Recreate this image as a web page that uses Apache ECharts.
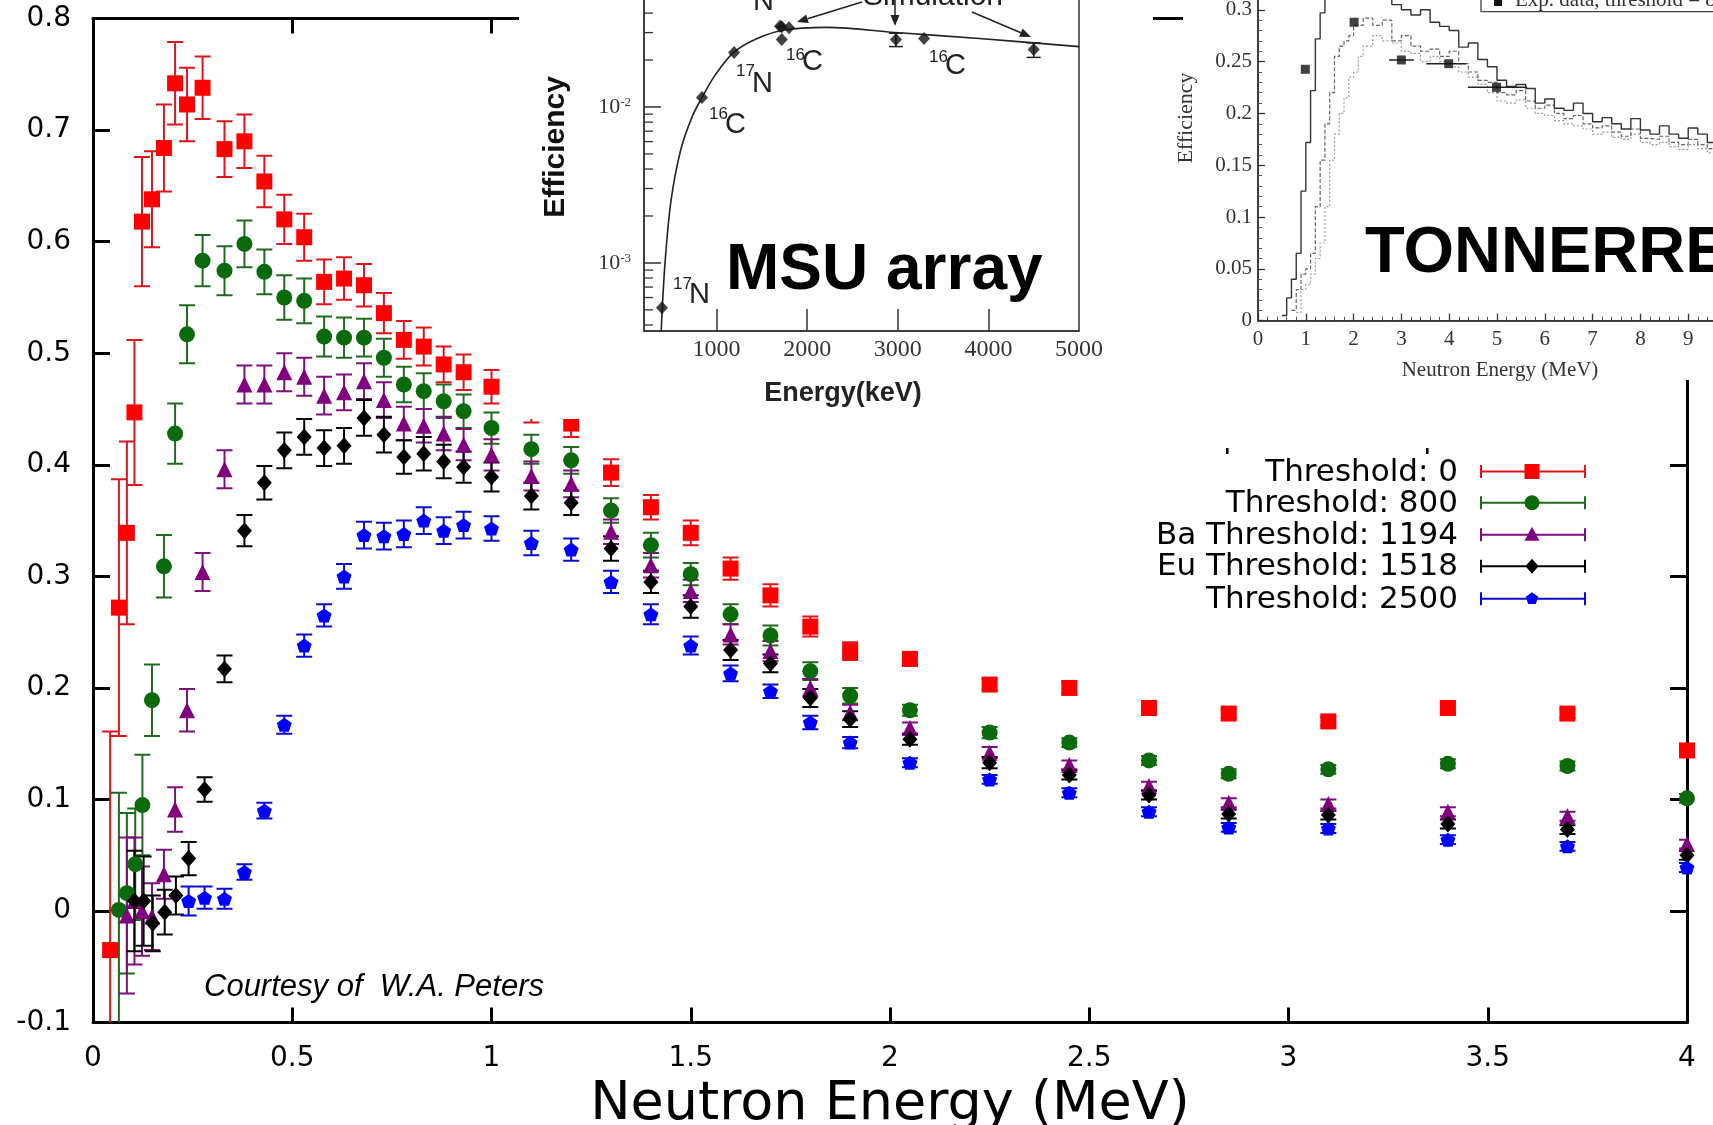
<!DOCTYPE html>
<html><head><meta charset="utf-8">
<script src="https://cdn.jsdelivr.net/npm/echarts@6/dist/echarts.min.js"></script>
<style>html,body{margin:0;padding:0;background:#fff}#c{width:1713px;height:1125px}</style>
</head><body><div id="c"></div>
<script>
// ---------------- main chart data (Neutron Energy MeV, efficiency, error) ----------------
const eRed = [0.043,0.065,0.085,0.104,0.123,0.148,0.178,0.206,0.236,0.275,0.33,0.38,0.43,0.48,0.53,0.58,0.63,0.68,0.73,0.78,0.83,0.88,0.93,1.0,1.1,1.2,1.3,1.4,1.5,1.6,1.7,1.8,1.9,2.05,2.25,2.45,2.65,2.85,3.1,3.4,3.7,4.0];
const effRed = [-0.035,0.272,0.339,0.447,0.618,0.638,0.684,0.742,0.723,0.738,0.683,0.690,0.654,0.620,0.604,0.564,0.567,0.561,0.536,0.512,0.506,0.490,0.483,0.470,0.451,0.437,0.393,0.362,0.339,0.307,0.283,0.255,0.233,0.226,0.203,0.200,0.182,0.177,0.170,0.182,0.177,0.144];
const errRed = [0.196,0.115,0.082,0.065,0.058,0.043,0.039,0.037,0.033,0.028,0.025,0.024,0.023,0.022,0.021,0.020,0.019,0.019,0.018,0.017,0.017,0.016,0.016,0.015,0.013,0.012,0.012,0.011,0.011,0.010,0.010,0.009,0.008,0.006,0.005,0.005,0.004,0.004,0.004,0.004,0.004,0.004];

const eGreen = [0.065,0.085,0.106,0.124,0.148,0.178,0.206,0.236,0.275,0.33,0.38,0.43,0.48,0.53,0.58,0.63,0.68,0.73,0.78,0.83,0.88,0.93,1.0,1.1,1.2,1.3,1.4,1.5,1.6,1.7,1.8,1.9,2.05,2.25,2.45,2.65,2.85,3.1,3.4,3.7,4.0];
const effGreen = [0.001,0.016,0.042,0.095,0.189,0.309,0.428,0.517,0.583,0.574,0.598,0.573,0.550,0.547,0.515,0.514,0.514,0.496,0.472,0.466,0.457,0.448,0.433,0.414,0.404,0.359,0.328,0.302,0.266,0.247,0.215,0.193,0.180,0.160,0.151,0.135,0.123,0.127,0.132,0.130,0.101];
const errGreen = [0.105,0.072,0.050,0.045,0.032,0.028,0.027,0.026,0.023,0.022,0.021,0.020,0.020,0.020,0.018,0.018,0.017,0.017,0.016,0.016,0.015,0.015,0.014,0.013,0.012,0.011,0.011,0.010,0.009,0.009,0.008,0.007,0.005,0.005,0.004,0.004,0.004,0.004,0.004,0.004,0.004];

const ePurple = [0.085,0.104,0.123,0.148,0.178,0.206,0.236,0.275,0.33,0.38,0.43,0.48,0.53,0.58,0.63,0.68,0.73,0.78,0.83,0.88,0.93,1.0,1.1,1.2,1.3,1.4,1.5,1.6,1.7,1.8,1.9,2.05,2.25,2.45,2.65,2.85,3.1,3.4,3.7,4.0];
const effPurple = [-0.004,0.009,0.000,-0.005,0.033,0.091,0.180,0.304,0.396,0.472,0.472,0.483,0.479,0.462,0.465,0.475,0.458,0.437,0.435,0.428,0.418,0.409,0.390,0.383,0.340,0.310,0.287,0.248,0.233,0.200,0.178,0.164,0.142,0.131,0.112,0.097,0.096,0.089,0.085,0.060];
const errPurple = [0.070,0.057,0.040,0.030,0.022,0.020,0.019,0.017,0.017,0.017,0.017,0.017,0.017,0.017,0.016,0.016,0.016,0.015,0.015,0.015,0.014,0.014,0.013,0.012,0.011,0.011,0.010,0.009,0.009,0.008,0.007,0.005,0.005,0.004,0.004,0.004,0.004,0.004,0.004,0.004];

const eBlack = [0.104,0.127,0.150,0.180,0.208,0.240,0.280,0.33,0.38,0.43,0.48,0.53,0.58,0.63,0.68,0.73,0.78,0.83,0.88,0.93,1.0,1.1,1.2,1.3,1.4,1.5,1.6,1.7,1.8,1.9,2.05,2.25,2.45,2.65,2.85,3.1,3.4,3.7,4.0];
const effBlack = [0.009,0.009,-0.011,-0.001,0.014,0.047,0.109,0.217,0.341,0.384,0.413,0.425,0.415,0.417,0.442,0.427,0.407,0.410,0.403,0.398,0.389,0.372,0.366,0.325,0.295,0.273,0.234,0.222,0.191,0.172,0.154,0.133,0.122,0.104,0.087,0.086,0.078,0.073,0.050];
const errBlack = [0.045,0.040,0.025,0.020,0.017,0.015,0.011,0.012,0.014,0.015,0.016,0.016,0.016,0.016,0.016,0.016,0.015,0.015,0.015,0.014,0.013,0.012,0.011,0.011,0.010,0.010,0.009,0.008,0.008,0.007,0.005,0.005,0.004,0.004,0.004,0.004,0.004,0.004,0.004];

const eBlue = [0.240,0.280,0.33,0.38,0.43,0.48,0.53,0.58,0.63,0.68,0.73,0.78,0.83,0.88,0.93,1.0,1.1,1.2,1.3,1.4,1.5,1.6,1.7,1.8,1.9,2.05,2.25,2.45,2.65,2.85,3.1,3.4,3.7,4.0];
const effBlue = [0.009,0.012,0.011,0.035,0.090,0.167,0.238,0.265,0.300,0.337,0.336,0.338,0.350,0.341,0.346,0.343,0.330,0.324,0.295,0.266,0.238,0.213,0.197,0.169,0.151,0.133,0.118,0.106,0.089,0.075,0.074,0.064,0.058,0.039];
const errBlue = [0.013,0.010,0.009,0.007,0.007,0.008,0.010,0.010,0.011,0.012,0.012,0.012,0.012,0.012,0.012,0.011,0.011,0.010,0.010,0.009,0.008,0.007,0.006,0.006,0.005,0.004,0.004,0.004,0.004,0.004,0.004,0.004,0.004,0.004];

const legendNames = ['Threshold: 0','Threshold: 800','Ba Threshold: 1194','Eu Threshold: 1518','Threshold: 2500'];

// ---------------- MSU inset data ----------------
const msuE = [398,840,1194,1700,1720,1800,1720,2980,3290,4500];
const msuEff = [0.000515,0.0115,0.0224,0.0330,0.0327,0.0322,0.0271,0.0271,0.0275,0.0234];
const msuLo = [null,null,null,null,null,null,null,0.0244,null,0.0208];
const msuHi = [null,null,null,null,null,null,null,0.0297,null,0.0258];
const msuCurveE = [390,432,498,605,733,840,985,1190,1449,1747,2211,3017,3900,5000];
const msuCurveEff = [0.000366,0.001,0.0025,0.0053,0.0087,0.0115,0.016,0.0224,0.0275,0.0312,0.0324,0.0299,0.0275,0.0244];
const msuMinorTicks = [0.0004,0.0005,0.0006,0.0007,0.0008,0.0009,0.002,0.003,0.004,0.005,0.006,0.007,0.008,0.009,0.02,0.03,0.04];
const msuXLabels = [1000,2000,3000,4000,5000];
const msuXTicks = [1000,2000,3000,4000];

// ---------------- TONNERRE inset data ----------------
const tonSolidX = [0.5,0.6,0.7,0.8,0.9,1.0,1.1,1.2,1.3,1.4,1.5,1.6,1.8,2.0,2.2,2.4,2.6,2.8,3.0,3.2,3.4,3.6,3.8,4.0,4.2,4.4,4.6,4.8,5.0,5.2,5.4,5.6,5.8,6.0,6.2,6.4,6.6,6.8,7.0,7.2,7.4,7.6,7.8,8.0,8.2,8.4,8.6,8.8,9.0,9.2,9.4,9.6,9.8];
const tonSolidY = [0.005,0.022,0.040,0.065,0.125,0.172,0.222,0.272,0.297,0.320,0.340,0.350,0.355,0.350,0.345,0.330,0.320,0.305,0.300,0.295,0.300,0.288,0.284,0.280,0.264,0.268,0.252,0.245,0.232,0.226,0.228,0.224,0.210,0.214,0.205,0.203,0.210,0.200,0.192,0.196,0.190,0.185,0.195,0.184,0.180,0.188,0.180,0.176,0.186,0.180,0.172,0.170,0.170];
const tonDashX = [0.7,0.8,0.9,1.0,1.1,1.2,1.3,1.4,1.5,1.6,1.7,1.8,1.9,2.0,2.2,2.4,2.6,2.8,3.0,3.2,3.4,3.6,3.8,4.0,4.2,4.4,4.6,4.8,5.0,5.2,5.4,5.6,5.8,6.0,6.2,6.4,6.6,6.8,7.0,7.2,7.4,7.6,7.8,8.0,8.2,8.4,8.6,8.8,9.0,9.2,9.4,9.6,9.8];
const tonDashY = [0.010,0.030,0.045,0.050,0.065,0.110,0.155,0.190,0.220,0.255,0.265,0.270,0.275,0.285,0.292,0.285,0.290,0.270,0.275,0.265,0.260,0.262,0.255,0.260,0.248,0.240,0.232,0.230,0.220,0.218,0.222,0.212,0.205,0.208,0.200,0.195,0.198,0.190,0.186,0.188,0.182,0.178,0.185,0.176,0.175,0.178,0.172,0.170,0.175,0.170,0.166,0.165,0.165];
const tonDotX = [0.8,0.9,1.0,1.1,1.2,1.3,1.4,1.5,1.6,1.7,1.8,1.9,2.0,2.1,2.2,2.4,2.6,2.8,3.0,3.2,3.4,3.6,3.8,4.0,4.2,4.4,4.6,4.8,5.0,5.2,5.4,5.6,5.8,6.0,6.2,6.4,6.6,6.8,7.0,7.2,7.4,7.6,7.8,8.0,8.2,8.4,8.6,8.8,9.0,9.2,9.4,9.6,9.8];
const tonDotY = [0.008,0.030,0.035,0.045,0.060,0.075,0.110,0.155,0.180,0.200,0.215,0.235,0.240,0.255,0.265,0.275,0.270,0.268,0.260,0.258,0.250,0.255,0.250,0.245,0.240,0.235,0.228,0.220,0.212,0.210,0.213,0.205,0.200,0.198,0.193,0.190,0.188,0.185,0.180,0.182,0.177,0.175,0.180,0.172,0.170,0.172,0.168,0.165,0.170,0.166,0.162,0.160,0.160];
const tonExpE = [0.99,2.01,3.0,3.99,4.99];
const tonExpEff = [0.2426,0.288,0.2516,0.248,0.2252];
const tonExpLo = [0,0,0.26,0.47,0.60];
const tonExpHi = [0,0,0.26,0.36,0.64];

// ---------------- styles ----------------
const SERIES = [
  {name:legendNames[0], x:eRed, y:effRed, e:errRed, color:'#ff0000', bar:'#e3121b', symbol:'rect', size:16},
  {name:legendNames[1], x:eGreen, y:effGreen, e:errGreen, color:'#0b6a0b', bar:'#1e6b1e', symbol:'circle', size:16},
  {name:legendNames[2], x:ePurple, y:effPurple, e:errPurple, color:'#800080', bar:'#7d0f7d', symbol:'triangle', size:16},
  {name:legendNames[3], x:eBlack, y:effBlack, e:errBlack, color:'#000000', bar:'#000000', symbol:'diamond', size:[15,17]},
  {name:legendNames[4], x:eBlue, y:effBlue, e:errBlue, color:'#0000ff', bar:'#0a0ad0', symbol:'path://M0,-10L9.51,-3.09L5.88,8.09L-5.88,8.09L-9.51,-3.09Z', size:[15,14]}
];

function vErrRender(color, capW, lw) {
  return function (params, api) {
    const x = api.value(0), y = api.value(1), e = api.value(2);
    const lo = api.coord([x, y - e]), hi = api.coord([x, y + e]);
    const h = capW / 2, st = {stroke: color, lineWidth: lw};
    return {type:'group', children:[
      {type:'line', shape:{x1:lo[0], y1:lo[1], x2:hi[0], y2:hi[1]}, style:st},
      {type:'line', shape:{x1:lo[0]-h, y1:lo[1], x2:lo[0]+h, y2:lo[1]}, style:st},
      {type:'line', shape:{x1:hi[0]-h, y1:hi[1], x2:hi[0]+h, y2:hi[1]}, style:st}
    ]};
  };
}

const series = [];
SERIES.forEach(function (s) {
  series.push({
    type:'custom', name:s.name+' err', xAxisIndex:0, yAxisIndex:0, clip:true, z:2,
    renderItem: vErrRender(s.bar, 16, 2),
    encode:{x:0, y:1},
    data: s.x.map(function (v, i) { return [v, s.y[i], s.e[i]]; }),
    silent:true
  });
});
SERIES.forEach(function (s) {
  series.push({
    type:'scatter', name:s.name, xAxisIndex:0, yAxisIndex:0, clip:true, z:3,
    symbol:s.symbol, symbolSize:s.size,
    itemStyle:{color:s.color, opacity:1},
    data: s.x.map(function (v, i) { return [v, s.y[i]]; }),
    silent:true
  });
});

// MSU inset series
series.push({
  type:'line', xAxisIndex:2, yAxisIndex:2, zlevel:2, z:5, smooth:0.35, showSymbol:false, clip:true,
  lineStyle:{color:'#222', width:1.6},
  data: msuCurveE.map(function (v, i) { return [v, msuCurveEff[i]]; }), silent:true
});
series.push({
  type:'custom', xAxisIndex:2, yAxisIndex:2, zlevel:2, z:6, clip:true,
  renderItem: function (params, api) {
    const x = api.value(0), lo = api.value(1), hi = api.value(2);
    const a = api.coord([x, lo]), b = api.coord([x, hi]), st = {stroke:'#222', lineWidth:1.5};
    return {type:'group', children:[
      {type:'line', shape:{x1:a[0], y1:a[1], x2:b[0], y2:b[1]}, style:st},
      {type:'line', shape:{x1:a[0]-7, y1:a[1], x2:a[0]+7, y2:a[1]}, style:st},
      {type:'line', shape:{x1:b[0]-7, y1:b[1], x2:b[0]+7, y2:b[1]}, style:st}
    ]};
  },
  encode:{x:0, y:1},
  data: msuE.map(function (v, i) { return [v, msuLo[i], msuHi[i]]; }).filter(function (d) { return d[1] !== null; }),
  silent:true
});
series.push({
  type:'scatter', xAxisIndex:2, yAxisIndex:2, zlevel:2, z:7, symbol:'diamond', symbolSize:[12,13],
  itemStyle:{color:'#111'}, clip:false,
  data: msuE.map(function (v, i) { return [v, msuEff[i]]; }), silent:true
});
series.push({
  type:'custom', xAxisIndex:2, yAxisIndex:2, zlevel:2, z:7, clip:false,
  renderItem: function (params, api) {
    const p = api.coord([200, api.value(1)]);
    return {type:'line', shape:{x1:p[0], y1:p[1], x2:p[0]+9, y2:p[1]}, style:{stroke:'#333', lineWidth:1.3}};
  },
  encode:{x:0, y:1},
  data: msuMinorTicks.map(function (v) { return [200, v]; }), silent:true
});

// TONNERRE inset series
function stepData(xs, ys) { return xs.map(function (v, i) { return [v, ys[i]]; }); }
series.push({type:'line', xAxisIndex:3, yAxisIndex:3, zlevel:2, z:5, step:'end', showSymbol:false, clip:true,
  lineStyle:{color:'#999', width:1.2, type:[2,2]}, data:stepData(tonDotX, tonDotY), silent:true});
series.push({type:'line', xAxisIndex:3, yAxisIndex:3, zlevel:2, z:5, step:'end', showSymbol:false, clip:true,
  lineStyle:{color:'#666', width:1.2, type:[4,2]}, data:stepData(tonDashX, tonDashY), silent:true});
series.push({type:'line', xAxisIndex:3, yAxisIndex:3, zlevel:2, z:6, step:'end', showSymbol:false, clip:true,
  lineStyle:{color:'#333', width:1.4}, data:stepData(tonSolidX, tonSolidY), silent:true});
series.push({
  type:'custom', xAxisIndex:3, yAxisIndex:3, zlevel:2, z:7, clip:true,
  renderItem: function (params, api) {
    const x = api.value(0), y = api.value(1), lo = api.value(2), hi = api.value(3);
    const a = api.coord([x - lo, y]), b = api.coord([x + hi, y]);
    return {type:'line', shape:{x1:a[0], y1:a[1], x2:b[0], y2:b[1]}, style:{stroke:'#222', lineWidth:1.5}};
  },
  encode:{x:0, y:1},
  data: tonExpE.map(function (v, i) { return [v, tonExpEff[i], tonExpLo[i], tonExpHi[i]]; }), silent:true
});
series.push({type:'scatter', xAxisIndex:3, yAxisIndex:3, zlevel:2, z:8, symbol:'rect', symbolSize:9,
  itemStyle:{color:'#111'}, data: tonExpE.map(function (v, i) { return [v, tonExpEff[i]]; }), silent:true});

// ---------------- graphics (inset backgrounds, labels, legend) ----------------
const g = [];
g.push({type:'rect', zlevel:1, z:1, shape:{x:519, y:-5, width:634, height:424}, style:{fill:'#fff'}, silent:true});
g.push({type:'rect', zlevel:1, z:1, shape:{x:1183, y:-5, width:540, height:385}, style:{fill:'#fff'}, silent:true});

// legend of main chart
const legY = [471.5, 502.8, 534.8, 566.3, 598.8];
SERIES.forEach(function (s, i) {
  const y = legY[i];
  g.push({type:'text', zlevel:0, z:100, x:1458, y:y+1, style:{text:s.name, fill:'#000', font:'31px "DejaVu Sans"', textAlign:'right', textVerticalAlign:'middle'}});
  const st = {stroke:s.bar, lineWidth:2};
  g.push({type:'line', zlevel:0, z:100, shape:{x1:1481, y1:y, x2:1585, y2:y}, style:st});
  g.push({type:'line', zlevel:0, z:100, shape:{x1:1481, y1:y-6.5, x2:1481, y2:y+6.5}, style:st});
  g.push({type:'line', zlevel:0, z:100, shape:{x1:1585, y1:y-6.5, x2:1585, y2:y+6.5}, style:st});
});
g.push({type:'rect', zlevel:0, z:101, shape:{x:1524.5, y:legY[0]-7.5, width:15, height:15}, style:{fill:'#ff0000'}});
g.push({type:'circle', zlevel:0, z:101, shape:{cx:1532, cy:legY[1], r:7.5}, style:{fill:'#0b6a0b'}});
g.push({type:'polygon', zlevel:0, z:101, shape:{points:[[1532,legY[2]-8],[1539.5,legY[2]+6],[1524.5,legY[2]+6]]}, style:{fill:'#800080'}});
g.push({type:'polygon', zlevel:0, z:101, shape:{points:[[1532,legY[3]-7.5],[1538.5,legY[3]],[1532,legY[3]+7.5],[1525.5,legY[3]]]}, style:{fill:'#000'}});
g.push({type:'polygon', zlevel:0, z:101, shape:{points:[[1532,legY[4]-6.5],[1538.2,legY[4]-2],[1535.8,legY[4]+5.3],[1528.2,legY[4]+5.3],[1525.8,legY[4]-2]]}, style:{fill:'#0000ff'}});
g.push({type:'rect', zlevel:0, z:100, shape:{x:1226, y:448, width:2.5, height:6}, style:{fill:'#000'}});
g.push({type:'rect', zlevel:0, z:100, shape:{x:1426, y:448, width:2.5, height:6}, style:{fill:'#000'}});
g.push({type:'text', zlevel:0, z:100, x:204, y:987, style:{text:'Courtesy of  W.A. Peters', fill:'#000', font:'italic 31px "Liberation Sans"', textAlign:'left', textVerticalAlign:'middle'}});

// MSU inset labels
g.push({type:'text', zlevel:2, z:20, x:556, y:147, rotation:Math.PI/2, style:{text:'Efficiency', fill:'#111', font:'bold 30px "Liberation Sans"', textAlign:'center', textVerticalAlign:'middle'}});
g.push({type:'text', zlevel:2, z:20, x:843, y:394, style:{text:'Energy(keV)', fill:'#222', font:'bold 27px "Liberation Sans"', textAlign:'center', textVerticalAlign:'middle'}});
g.push({type:'text', zlevel:2, z:20, x:726, y:271, style:{text:'MSU array', fill:'#000', font:'bold 64px "Liberation Sans"', textAlign:'left', textVerticalAlign:'middle'}});
const msuNotes = [
  {sup:'17', el:'N', x:673, y:295, sy:284},
  {sup:'16', el:'C', x:709, y:125, sy:114},
  {sup:'17', el:'N', x:736, y:84, sy:71},
  {sup:'16', el:'C', x:786, y:62, sy:55},
  {sup:'16', el:'C', x:929, y:66, sy:57}
];
msuNotes.forEach(function (n) {
  g.push({type:'text', zlevel:2, z:20, x:n.x, y:n.sy, style:{text:n.sup, fill:'#222', font:'17px "Liberation Sans"', textAlign:'left', textVerticalAlign:'middle'}});
  g.push({type:'text', zlevel:2, z:20, x:n.x+16, y:n.y, style:{text:n.el, fill:'#222', font:'29px "Liberation Sans"', textAlign:'left', textVerticalAlign:'middle'}});
});
g.push({type:'text', zlevel:2, z:20, x:753, y:2, style:{text:'N', fill:'#222', font:'29px "Liberation Sans"', textAlign:'left', textVerticalAlign:'middle'}});
g.push({type:'text', zlevel:2, z:20, x:933, y:-3, style:{text:'Simulation', fill:'#222', font:'30px "Liberation Sans"', textAlign:'center', textVerticalAlign:'middle'}});
function arrow(x1, y1, x2, y2) {
  const ang = Math.atan2(y2 - y1, x2 - x1), L = 11, W = 4.5;
  const bx = x2 - L * Math.cos(ang), by = y2 - L * Math.sin(ang);
  const px = -Math.sin(ang) * W, py = Math.cos(ang) * W;
  g.push({type:'line', zlevel:2, z:20, shape:{x1:x1, y1:y1, x2:bx, y2:by}, style:{stroke:'#222', lineWidth:1.5}});
  g.push({type:'polygon', zlevel:2, z:20, shape:{points:[[x2,y2],[bx+px,by+py],[bx-px,by-py]]}, style:{fill:'#222'}});
}
arrow(862, 2, 797, 22);
arrow(895, -2, 895, 26);
arrow(972, 12, 1031, 37);

// TONNERRE inset labels
g.push({type:'text', zlevel:2, z:20, x:1186, y:118, rotation:Math.PI/2, style:{text:'Efficiency', fill:'#333', font:'22px "Liberation Serif"', textAlign:'center', textVerticalAlign:'middle'}});
g.push({type:'text', zlevel:2, z:20, x:1500, y:370, style:{text:'Neutron Energy (MeV)', fill:'#333', font:'21px "Liberation Serif"', textAlign:'center', textVerticalAlign:'middle'}});
g.push({type:'text', zlevel:2, z:20, x:1365, y:254, style:{text:'TONNERRE', fill:'#000', font:'bold 65px "Liberation Sans"', textAlign:'left', textVerticalAlign:'middle'}});
g.push({type:'rect', zlevel:2, z:20, shape:{x:1481, y:-30, width:260, height:41.7}, style:{fill:'#fff', stroke:'#444', lineWidth:1.3}});
g.push({type:'rect', zlevel:2, z:21, shape:{x:1494, y:-2, width:8, height:8}, style:{fill:'#111'}});
g.push({type:'text', zlevel:2, z:21, x:1515, y:0, style:{text:'Exp. data, threshold = 80 keV', fill:'#333', font:'21px "Liberation Serif"', textAlign:'left', textVerticalAlign:'middle'}});

// ---------------- axes ----------------
const mainLabel = {color:'#000', fontFamily:'DejaVu Sans', fontSize:28};
const option = {
  animation:false,
  backgroundColor:'#fff',
  grid:[
    {left:93, top:18.6, width:1594, height:1004, show:false, containLabel:false, outerBoundsMode:'none'},
    {left:644, top:-2, width:435, height:333, show:true, borderColor:'#333', borderWidth:1.5, backgroundColor:'transparent', zlevel:2, z:3, containLabel:false, outerBoundsMode:'none'},
    {left:1258, top:-42, width:478, height:362.7, show:true, borderColor:'#333', borderWidth:1.5, backgroundColor:'transparent', zlevel:2, z:3, containLabel:false, outerBoundsMode:'none'}
  ],
  xAxis:[
    {type:'value', gridIndex:0, position:'bottom', min:0, max:4, interval:0.5,
      axisLine:{show:true, onZero:false, lineStyle:{color:'#000', width:3}},
      axisTick:{show:true, inside:true, length:15, lineStyle:{color:'#000', width:3}},
      axisLabel:Object.assign({margin:22, formatter:function (v) { return String(Math.round(v*10)/10); }}, mainLabel),
      splitLine:{show:false},
      name:'Neutron Energy (MeV)', nameLocation:'middle', nameGap:46,
      nameTextStyle:{fontFamily:'DejaVu Sans', fontSize:54, color:'#000'}},
    {type:'value', gridIndex:0, position:'top', min:0, max:4, interval:0.5,
      axisLine:{show:true, onZero:false, lineStyle:{color:'#000', width:3}},
      axisTick:{show:true, inside:true, length:15, lineStyle:{color:'#000', width:3}},
      axisLabel:{show:false}, splitLine:{show:false}},
    {type:'value', gridIndex:1, min:200, max:5000, zlevel:2, z:4,
      axisLine:{show:true, onZero:false, lineStyle:{color:'#333', width:1.5}},
      axisTick:{show:true, inside:true, length:22, customValues:msuXTicks, lineStyle:{color:'#333', width:1.5}},
      axisLabel:{show:true, customValues:msuXLabels, margin:7, color:'#333', fontFamily:'Liberation Serif', fontSize:24, formatter:function (v) { return String(v); }},
      splitLine:{show:false}},
    {type:'value', gridIndex:2, min:0, max:10, interval:1, zlevel:2, z:4,
      axisLine:{show:true, onZero:false, lineStyle:{color:'#333', width:1.5}},
      axisTick:{show:true, inside:true, length:7, lineStyle:{color:'#333', width:1.3}},
      minorTick:{show:true, splitNumber:5, length:4, lineStyle:{color:'#555', width:1}},
      axisLabel:{margin:8, color:'#333', fontFamily:'Liberation Serif', fontSize:21, showMaxLabel:false},
      splitLine:{show:false}}
  ],
  yAxis:[
    {type:'value', gridIndex:0, position:'left', min:-0.1, max:0.8, interval:0.1,
      axisLine:{show:true, onZero:false, lineStyle:{color:'#000', width:3}},
      axisTick:{show:true, inside:true, length:17, lineStyle:{color:'#000', width:3}},
      axisLabel:Object.assign({margin:22, formatter:function (v) { const r = Math.round(v*10)/10; return r === 0 ? '0' : String(r); }}, mainLabel),
      splitLine:{show:false}},
    {type:'value', gridIndex:0, position:'right', min:-0.1, max:0.8, interval:0.1,
      axisLine:{show:true, onZero:false, lineStyle:{color:'#000', width:3}},
      axisTick:{show:true, inside:true, length:17, lineStyle:{color:'#000', width:3}},
      axisLabel:{show:false}, splitLine:{show:false}},
    {type:'log', logBase:10, gridIndex:1, min:0.000366, max:0.05, zlevel:2, z:4,
      axisLine:{show:true, onZero:false, lineStyle:{color:'#333', width:1.5}},
      axisTick:{show:true, inside:true, length:17, lineStyle:{color:'#333', width:1.5}},
      axisLabel:{margin:13, showMinLabel:false, showMaxLabel:false,
        formatter:function (v) { const e = Math.log10(v); if (Math.abs(e - Math.round(e)) > 1e-6) return ''; return '{b|10}{s|' + Math.round(e) + '}'; },
        rich:{b:{fontFamily:'Liberation Serif', fontSize:22, color:'#333'}, s:{fontFamily:'Liberation Serif', fontSize:13, color:'#333', verticalAlign:'top'}}},
      splitLine:{show:false}, minorTick:{show:false}},
    {type:'value', gridIndex:2, min:0, max:0.35, interval:0.05, zlevel:2, z:4,
      axisLine:{show:true, onZero:false, lineStyle:{color:'#333', width:1.5}},
      axisTick:{show:true, inside:true, length:7, lineStyle:{color:'#333', width:1.3}},
      minorTick:{show:true, splitNumber:5, length:4, lineStyle:{color:'#555', width:1}},
      axisLabel:{margin:6, color:'#333', fontFamily:'Liberation Serif', fontSize:21, showMaxLabel:false, formatter:function (v) { return String(Math.round(v*100)/100); }},
      splitLine:{show:false}}
  ],
  graphic:{elements:g},
  series:series
};
const chart = echarts.init(document.getElementById('c'), null, {renderer:'canvas'});
chart.setOption(option);
</script></body></html>
